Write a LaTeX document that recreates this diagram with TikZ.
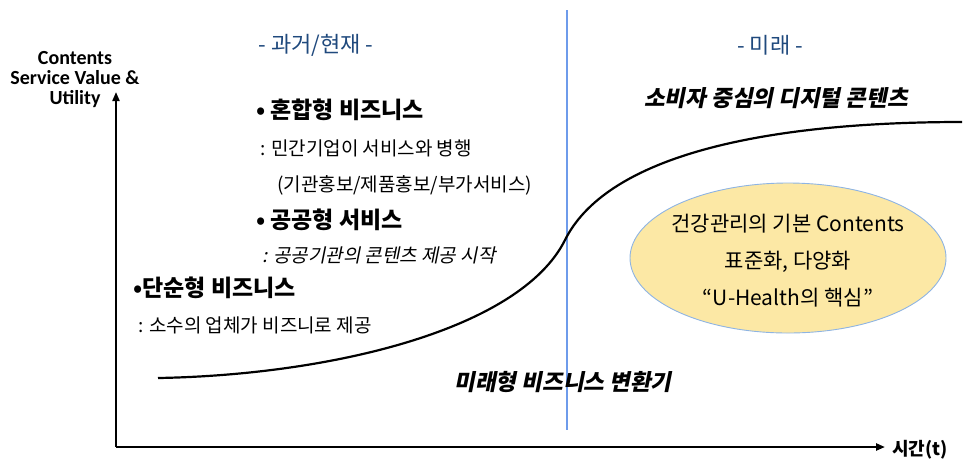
\documentclass[tikz,border=0pt]{standalone}
\usepackage{fontspec}
\setmainfont{Noto Sans CJK KR}
\newfontfamily\krit[FakeSlant=0.2]{Noto Sans CJK KR}
\newfontfamily\lat{Carlito}
\usetikzlibrary{arrows.meta,shapes.geometric}
\definecolor{hdr}{RGB}{31,73,125}
\definecolor{divline}{RGB}{110,155,235}
\definecolor{ellfill}{RGB}{252,232,165}
\definecolor{ellline}{RGB}{142,180,227}
\begin{document}
\begin{tikzpicture}[x=1pt,y=-1pt,
  hdrtext/.style={text=hdr,font=\fontsize{22}{24}\selectfont,inner sep=0pt},
  headtext/.style={font=\fontsize{23}{26}\selectfont\bfseries,inner sep=0pt,anchor=west},
  subtext/.style={font=\fontsize{19}{22}\selectfont,inner sep=0pt,anchor=west},
  axisline/.style={line width=2pt,-{Triangle[length=9pt,width=7pt]}},
  boldit/.style={font=\fontsize{22.5}{26}\selectfont\krit\bfseries,inner sep=0pt}]
\useasboundingbox (0,0) rectangle (965,459);
% axes
\coordinate (origin) at (116,447);
\coordinate (ytop) at (116,92);
\coordinate (xend) at (885,447);
\draw[axisline] (origin) -- (ytop);
\draw[axisline,line width=2.8pt] (origin) -- (xend);
% divider
\coordinate (dtop) at (567,10);
\coordinate (dbot) at (567,430);
\draw[divline,line width=1.1pt] (dtop) -- (dbot);
% headers
\node[hdrtext] (past) at (316,45) {- 과거/현재 -};
\node[hdrtext] (fut) at (770,45) {- 미래 -};
% y axis label
\node[font=\lat\bfseries\fontsize{20}{20}\selectfont,align=center,inner sep=0pt] (ylab) at (75,80) {Contents\\Service Value \&\\Utility};
\node[font=\fontsize{18}{20}\selectfont\bfseries,inner sep=0pt] (xlab) at (920,450) {시간(t)};
% left texts
\node[headtext] (h1) at (256,110) {• 혼합형 비즈니스};
\node[subtext] (s1) at (260,148) {: 민간기업이 서비스와 병행};
\node[subtext] (s1b) at (277,185) {(기관홍보/제품홍보/부가서비스)};
\node[headtext] (h2) at (256,220) {• 공공형 서비스};
\node[subtext,font=\fontsize{19}{22}\selectfont\krit] (s2) at (262,255) {: 공공기관의 콘텐츠 제공 시작};
\node[headtext] (h3) at (133,288) {•단순형 비즈니스};
\node[subtext] (s3) at (138,325) {: 소수의 업체가 비즈니로 제공};
% italic bold captions
\node[boldit] (cap1) at (776,98) {소비자 중심의 디지털 콘텐츠};
\node[boldit] (cap2) at (563,382) {미래형 비즈니스 변환기};
% curve
\coordinate (cs) at (158,378);
\coordinate (cm) at (565,240);
\coordinate (ce) at (962,122);
\draw[line width=2.2pt] (cs) .. controls (330,375) and (520,330) .. (cm)
   .. controls (605,160) and (750,122) .. (ce);
% ellipse
\node[draw=ellline,fill=ellfill,ellipse,line width=0.9pt,minimum width=316pt,minimum height=150pt,inner sep=0pt] (ell) at (788,258) {};
\node[font=\fontsize{21}{24}\selectfont,align=center,inner sep=0pt] (elltext) at ([yshift=-3pt]ell.center) {건강관리의 기본 Contents\\[13pt]표준화, 다양화\\[13pt]“U-Health의 핵심”};
\end{tikzpicture}
\end{document}
